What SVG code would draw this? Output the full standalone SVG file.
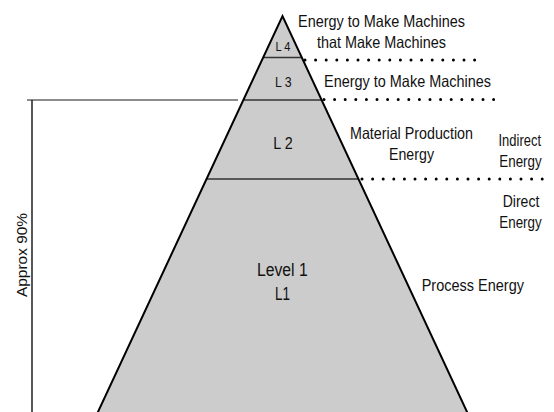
<svg xmlns="http://www.w3.org/2000/svg" width="554" height="412" viewBox="0 0 554 412">
  <style>
    text { font-family: "Liberation Sans", Arial, sans-serif; fill: #111; }
    .lbl { font-size: 16.5px; }
    .mid { text-anchor: middle; }
    .lvl { stroke: #333; stroke-width: 1.6; fill: none; }
    .dots { stroke: #000; stroke-width: 3; stroke-linecap: round; stroke-dasharray: 0 10.6; fill: none; }
  </style>
  <rect width="554" height="412" fill="#ffffff"/>

  <!-- pyramid body -->
  <g id="pyramid">
    <polygon points="282.5,16 467.5,413 97.5,413" fill="#cccccc" stroke="none"/>
    <line class="lvl" x1="263.5" y1="57.5" x2="301.5" y2="57.5"/>
    <line class="lvl" x1="243.5" y1="100" x2="321.5" y2="100"/>
    <line class="lvl" x1="206.5" y1="179" x2="358.5" y2="179"/>
    <polyline points="97,414 282.5,16 468,414" fill="none" stroke="#000" stroke-width="2" stroke-linejoin="miter"/>
  </g>

  <!-- level labels inside the pyramid -->
  <g id="level4"><text x="283" y="50.5" font-size="13" class="mid" textLength="15" lengthAdjust="spacingAndGlyphs">L 4</text></g>
  <g id="level3"><text x="283.3" y="86.5" font-size="14" class="mid" textLength="16.7" lengthAdjust="spacingAndGlyphs">L 3</text></g>
  <g id="level2"><text x="283" y="149.3" font-size="17" class="mid" textLength="19.4" lengthAdjust="spacingAndGlyphs">L 2</text></g>
  <g id="level1">
    <text x="282.3" y="276" font-size="17.5" class="mid" textLength="50.7" lengthAdjust="spacingAndGlyphs">Level 1</text>
    <text x="282.5" y="300" font-size="17.5" class="mid" textLength="15" lengthAdjust="spacingAndGlyphs">L1</text>
  </g>

  <!-- dotted separators -->
  <g id="connectors">
    <line class="dots" x1="305" y1="60" x2="476" y2="60"/>
    <line class="dots" x1="324" y1="99.5" x2="494" y2="99.5"/>
    <line class="dots" x1="362" y1="179" x2="552" y2="179"/>
    <!-- approx 90% bracket -->
    <line x1="27" y1="100" x2="238" y2="100" stroke="#666" stroke-width="1.6"/>
    <line x1="32" y1="100" x2="32" y2="412" stroke="#111" stroke-width="1.4"/>
  </g>

  <!-- energy labels -->
  <g id="label-l4">
    <text class="lbl" x="298" y="27.3" textLength="167" lengthAdjust="spacingAndGlyphs">Energy to Make Machines</text>
    <text class="lbl" x="317" y="48.3" textLength="129" lengthAdjust="spacingAndGlyphs">that Make Machines</text>
  </g>
  <g id="label-l3">
    <text class="lbl" x="324" y="87" textLength="167" lengthAdjust="spacingAndGlyphs">Energy to Make Machines</text>
  </g>
  <g id="label-l2">
    <text class="lbl" x="350" y="139.3" textLength="123" lengthAdjust="spacingAndGlyphs">Material Production</text>
    <text class="lbl" x="389" y="160" textLength="45" lengthAdjust="spacingAndGlyphs">Energy</text>
  </g>
  <g id="label-indirect">
    <text class="lbl" x="498.5" y="146.3" textLength="42.5" lengthAdjust="spacingAndGlyphs">Indirect</text>
    <text class="lbl" x="499.3" y="166.7" textLength="42.4" lengthAdjust="spacingAndGlyphs">Energy</text>
  </g>
  <g id="label-direct">
    <text class="lbl" x="502.7" y="207.3" textLength="36.6" lengthAdjust="spacingAndGlyphs">Direct</text>
    <text class="lbl" x="499.3" y="228.3" textLength="42.4" lengthAdjust="spacingAndGlyphs">Energy</text>
  </g>
  <g id="label-l1">
    <text class="lbl" x="421.7" y="290.7" textLength="102.3" lengthAdjust="spacingAndGlyphs">Process Energy</text>
  </g>
  <g id="label-share">
    <text x="0" y="0" font-size="14" class="mid" textLength="84" lengthAdjust="spacingAndGlyphs" transform="translate(26.5,255) rotate(-90)">Approx 90%</text>
  </g>
</svg>
